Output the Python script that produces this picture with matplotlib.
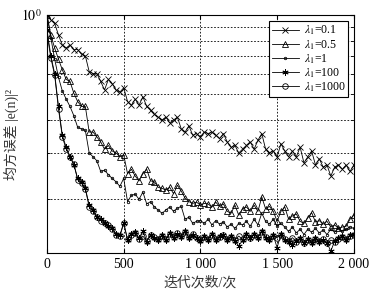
import numpy as np
import matplotlib
matplotlib.use('Agg')
import matplotlib.pyplot as plt
from matplotlib.ticker import FixedLocator, FixedFormatter, NullFormatter

plt.rcParams['font.family'] = ['Liberation Serif', 'Noto Sans CJK SC']
plt.rcParams['mathtext.fontset'] = 'stix'

# iteration axis (one sample every 25 iterations)
iters = np.arange(0, 2001, 25)

mse_01 = [1.0, 0.96, 0.93, 0.84, 0.77, 0.75, 0.77, 0.74, 0.74, 0.71,
          0.70, 0.61, 0.60, 0.60, 0.56, 0.52, 0.57, 0.55, 0.52, 0.51,
          0.53, 0.47, 0.455, 0.48, 0.455, 0.49, 0.45, 0.435, 0.42, 0.41,
          0.40, 0.41, 0.39, 0.40, 0.41, 0.37, 0.36, 0.38, 0.35, 0.355,
          0.345, 0.36, 0.355, 0.36, 0.35, 0.34, 0.355, 0.33, 0.315, 0.32,
          0.30, 0.31, 0.32, 0.33, 0.31, 0.335, 0.355, 0.31, 0.30, 0.305,
          0.29, 0.325, 0.305, 0.29, 0.305, 0.29, 0.315, 0.275, 0.29, 0.305,
          0.27, 0.285, 0.265, 0.27, 0.245, 0.265, 0.27, 0.26, 0.27, 0.255,
          0.27]

mse_05 = [1.0, 0.84, 0.75, 0.68, 0.62, 0.57, 0.56, 0.505, 0.47, 0.45,
          0.45, 0.36, 0.36, 0.345, 0.33, 0.31, 0.32, 0.305, 0.30, 0.29,
          0.295, 0.25, 0.26, 0.245, 0.235, 0.25, 0.26, 0.235, 0.233, 0.222,
          0.22, 0.217, 0.222, 0.21, 0.226, 0.215, 0.202, 0.196, 0.193, 0.195,
          0.19, 0.193, 0.192, 0.187, 0.195, 0.188, 0.192, 0.18, 0.177, 0.19,
          0.174, 0.184, 0.187, 0.18, 0.19, 0.18, 0.204, 0.184, 0.188, 0.18,
          0.165, 0.18, 0.187, 0.168, 0.173, 0.176, 0.165, 0.162, 0.17, 0.178,
          0.164, 0.166, 0.161, 0.165, 0.157, 0.16, 0.155, 0.157, 0.158, 0.168,
          0.174]

mse_1 = [1.0, 0.82, 0.68, 0.58, 0.515, 0.48, 0.45, 0.415, 0.375, 0.37,
         0.365, 0.30, 0.29, 0.28, 0.255, 0.258, 0.248, 0.24, 0.233, 0.224,
         0.24, 0.196, 0.207, 0.209, 0.20, 0.213, 0.192, 0.196, 0.187, 0.182,
         0.177, 0.182, 0.187, 0.18, 0.185, 0.188, 0.168, 0.171, 0.162, 0.165,
         0.166, 0.162, 0.168, 0.16, 0.166, 0.161, 0.164, 0.157, 0.161, 0.155,
         0.162, 0.16, 0.165, 0.158, 0.168, 0.16, 0.177, 0.165, 0.161, 0.168,
         0.158, 0.162, 0.157, 0.151, 0.157, 0.149, 0.154, 0.147, 0.154, 0.15,
         0.155, 0.149, 0.153, 0.147, 0.154, 0.15, 0.155, 0.151, 0.154, 0.157,
         0.155]

mse_100 = [0.88, 0.70, 0.60, 0.45, 0.35, 0.315, 0.29, 0.27, 0.24, 0.232,
           0.22, 0.19, 0.182, 0.172, 0.168, 0.163, 0.158, 0.155, 0.148, 0.146,
           0.163, 0.14, 0.148, 0.15, 0.142, 0.152, 0.138, 0.146, 0.143, 0.14,
           0.146, 0.14, 0.149, 0.143, 0.148, 0.144, 0.151, 0.143, 0.147, 0.142,
           0.139, 0.145, 0.14, 0.148, 0.14, 0.145, 0.146, 0.14, 0.145, 0.139,
           0.133, 0.14, 0.148, 0.142, 0.148, 0.143, 0.151, 0.143, 0.14, 0.146,
           0.131, 0.148, 0.14, 0.138, 0.134, 0.139, 0.142, 0.137, 0.141, 0.137,
           0.142, 0.138, 0.14, 0.137, 0.127, 0.139, 0.142, 0.145, 0.14, 0.146,
           0.148]

mse_1000 = [0.85, 0.69, 0.59, 0.44, 0.345, 0.31, 0.29, 0.273, 0.237, 0.23,
            0.219, 0.187, 0.18, 0.171, 0.166, 0.162, 0.16, 0.154, 0.147, 0.145,
            0.162, 0.141, 0.147, 0.149, 0.141, 0.145, 0.139, 0.147, 0.144, 0.141,
            0.145, 0.141, 0.148, 0.144, 0.149, 0.145, 0.15, 0.144, 0.148, 0.143,
            0.14, 0.144, 0.141, 0.147, 0.141, 0.144, 0.147, 0.141, 0.144, 0.14,
            0.145, 0.141, 0.147, 0.143, 0.147, 0.144, 0.15, 0.144, 0.141, 0.145,
            0.143, 0.147, 0.141, 0.139, 0.143, 0.138, 0.141, 0.136, 0.14, 0.138,
            0.141, 0.139, 0.141, 0.136, 0.14, 0.138, 0.141, 0.144, 0.141, 0.145,
            0.147]

labels = [r'$\lambda_1$=0.1', r'$\lambda_1$=0.5', r'$\lambda_1$=1',
          r'$\lambda_1$=100', r'$\lambda_1$=1000']
markers = ['x', '^', '.', (6, 2, 0), 'o']
msizes = [4, 4.5, 3.5, 4.5, 4]

fig = plt.figure(figsize=(3.76, 2.96), dpi=100)
ax = fig.add_axes([0.125, 0.145, 0.816, 0.804])

for ys, lab, mk, ms in zip([mse_01, mse_05, mse_1, mse_100, mse_1000], labels, markers, msizes):
    ax.plot(iters, ys, '-', color='k', lw=0.6, marker=mk, ms=ms,
            mfc='none', mec='k', mew=0.6, label=lab)

ax.set_yscale('log')
ax.set_xlim(0, 2000)
ax.set_ylim(0.125, 1.0)

ax.xaxis.set_major_locator(FixedLocator([0, 500, 1000, 1500, 2000]))
ax.xaxis.set_major_formatter(FixedFormatter(['0', '500', '1 000', '1 500', '2 000']))
ax.yaxis.set_major_locator(FixedLocator([1.0]))
ax.yaxis.set_major_formatter(FixedFormatter([r'$10^0$']))
ax.yaxis.set_minor_locator(FixedLocator([0.2, 0.3, 0.4, 0.5, 0.6, 0.7, 0.8, 0.9]))
ax.yaxis.set_minor_formatter(NullFormatter())

ax.tick_params(which='both', direction='in', top=True, right=True, labelsize=10)
ax.tick_params(which='major', length=3)
ax.tick_params(which='minor', length=2)
ax.grid(True, which='major', axis='x', color='k', ls=(0, (2, 2)), lw=0.6)
ax.grid(True, which='minor', axis='y', color='k', ls=(0, (2, 2)), lw=0.6)

for sp in ax.spines.values():
    sp.set_linewidth(0.8)

leg = ax.legend(loc='upper right', bbox_to_anchor=(0.99, 0.985), fontsize=8.5,
                fancybox=False, edgecolor='k', framealpha=1, handlelength=2.3,
                labelspacing=0.05, borderpad=0.25, handletextpad=0.4,
                borderaxespad=0.2)
leg.get_frame().set_linewidth(0.8)

ax.set_xlabel('迭代次数/次', fontsize=10, color='#333333')
ax.set_ylabel('均方误差 |e(n)|²', fontsize=10, color='#333333', labelpad=2)

fig.savefig('out.png', dpi=100)
